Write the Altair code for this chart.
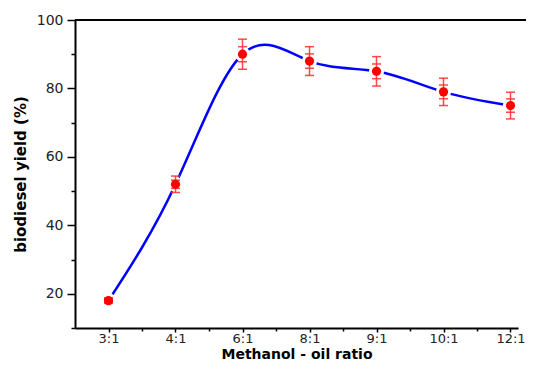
import altair as alt
import pandas as pd

ratios = ["3:1", "4:1", "6:1", "8:1", "9:1", "10:1", "12:1"]
yields = [18, 52, 90, 88, 85, 79, 75]
errors = [0.8, 2.4, 4.4, 4.2, 4.3, 4.0, 3.9]

df = pd.DataFrame({
    "pos": list(range(len(ratios))),
    "ratio": ratios,
    "y": yields,
    "err": errors,
})
df["lo"] = df["y"] - df["err"]
df["hi"] = df["y"] + df["err"]
df["lo2"] = df["y"] - df["err"] / 2
df["hi2"] = df["y"] + df["err"] / 2

label_js = "[" + ",".join("'" + r + "'" for r in ratios) + "]"

FONT = "DejaVu Sans"
PLOT_W = 443
PLOT_H = 308

x_axis = alt.Axis(
    values=[i * 0.5 for i in range(0, 13)],
    labelExpr="datum.value % 1 == 0 ? " + label_js + "[datum.value] : ''",
    title="Methanol - oil ratio",
    grid=False,
    tickSize={"condition": {"test": "datum.value % 1 == 0", "value": 4}, "value": 3},
    labelFlush=False,
    labelOverlap=False,
    labelFontSize=13,
    labelPadding=0,
    titlePadding=2,
    titleFontSize=14,
)
y_axis = alt.Axis(
    values=list(range(10, 101, 10)),
    labelExpr="(datum.value / 20) == floor(datum.value / 20) ? datum.label : ''",
    title="biodiesel yield (%)",
    grid=False,
    tickSize={"condition": {"test": "(datum.value / 20) == floor(datum.value / 20)", "value": 8}, "value": 4},
    labelOverlap=False,
    labelFontSize=14,
    labelPadding=4,
    titlePadding=8,
    titleFontSize=15,
)

xs = alt.Scale(domain=[-0.5, -0.5 + PLOT_W / 67.0], nice=False, zero=False)
ys = alt.Scale(domain=[10, 100], nice=False, zero=False)

def X(field):
    return alt.X(field, scale=xs, axis=x_axis)

def Y(field):
    return alt.Y(field, scale=ys, axis=y_axis)

base = alt.Chart(df)
ERR = "#ff2a2a"

line = base.mark_line(color="#0000ff", strokeWidth=2.5, interpolate="natural").encode(
    x=X("pos:Q"), y=Y("y:Q")
)
halo = base.mark_point(filled=True, color="white", opacity=1, size=230).encode(
    x=X("pos:Q"), y=Y("y:Q")
)
bars = base.mark_rule(color=ERR, strokeWidth=1.5, opacity=0.85).encode(
    x=X("pos:Q"), y=Y("lo:Q"), y2="hi:Q"
)
caps = []
for fld in ["hi:Q", "lo:Q", "hi2:Q", "lo2:Q"]:
    caps.append(
        base.mark_tick(color=ERR, orient="horizontal", size=9, thickness=1.5, opacity=0.85).encode(
            x=X("pos:Q"), y=Y(fld)
        )
    )
points = base.mark_point(filled=True, color="#ff0000", opacity=1, size=85).encode(
    x=X("pos:Q"), y=Y("y:Q")
)
top = alt.Chart(pd.DataFrame({"v": [100]})).mark_rule(color="black", strokeWidth=2).encode(
    y=Y("v:Q"), x=alt.value(0), x2=alt.value(PLOT_W + 8)
)

chart = alt.layer(
    line, halo, bars, *caps, points, top
).properties(
    width=PLOT_W,
    height=PLOT_H,
    autosize=alt.AutoSizeParams(type="none"),
    padding={"left": 67, "top": 12, "right": 8, "bottom": 33},
).configure_view(
    stroke=None
).configure_axis(
    domainColor="black",
    domainWidth=2,
    tickColor="black",
    tickWidth=1.5,
    labelFont=FONT,
    labelColor="#222222",
    titleFont=FONT,
    titleFontWeight="bold",
    titleColor="black",
)

chart.save("out.html", embed_options={"renderer": "svg", "actions": False})
